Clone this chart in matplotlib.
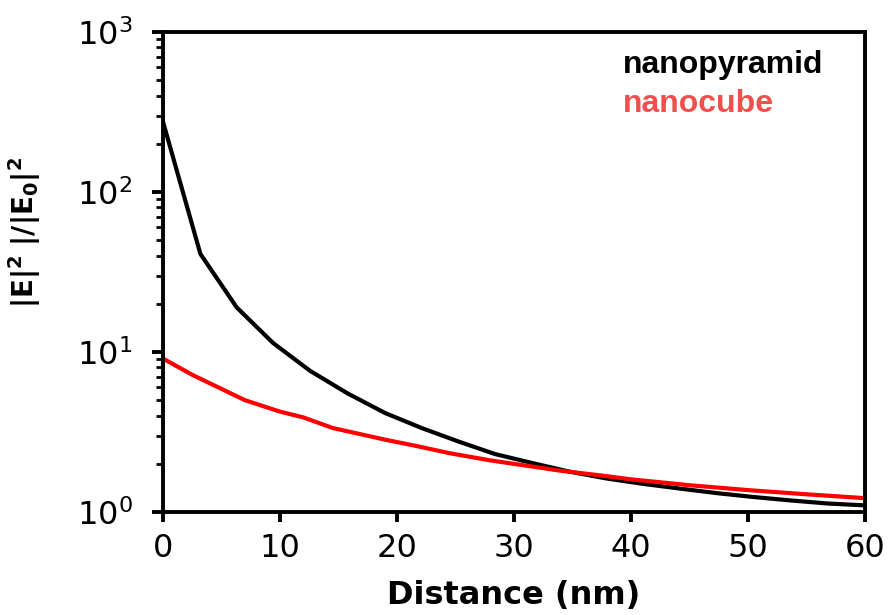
import numpy as np
import matplotlib
matplotlib.use("Agg")
import matplotlib.pyplot as plt

# distance from surface (nm) and field enhancement
pyramid_dist = [0, 3.2, 6.3, 9.4, 12.6, 15.8, 19.0, 22.1, 25.3, 28.4, 31.6,
                34.7, 37.9, 41.0, 44.2, 47.4, 50.5, 53.7, 56.8, 60.0]
pyramid_enh = [275, 41, 19, 11.4, 7.6, 5.5, 4.15, 3.35, 2.75, 2.3, 2.02,
               1.79, 1.62, 1.50, 1.40, 1.31, 1.24, 1.18, 1.13, 1.10]

cube_dist = [0, 2.5, 7.0, 10.0, 12.0, 14.5, 17.0, 19.1, 21.5, 24.5, 28.0,
             31.0, 34.0, 37.5, 40.0, 45.0, 50.0, 55.0, 60.0]
cube_enh = [9.1, 7.2, 5.0, 4.24, 3.9, 3.35, 3.05, 2.82, 2.6, 2.33, 2.1,
            1.95, 1.81, 1.69, 1.60, 1.47, 1.37, 1.29, 1.22]

labels = ["nanopyramid", "nanocube"]

fig = plt.figure(figsize=(8.92, 6.15), dpi=100)
ax = fig.add_axes([0.1827, 0.1675, 0.787, 0.7805])

ax.plot(pyramid_dist, pyramid_enh, color="black", lw=3.0)
ax.plot(cube_dist, cube_enh, color="red", lw=3.0)

ax.set_yscale("log")
ax.set_xlim(0, 60)
ax.set_ylim(1, 1000)
ax.set_xticks([0, 10, 20, 30, 40, 50, 60])

for s in ax.spines.values():
    s.set_linewidth(2.8)

ax.tick_params(axis="x", which="major", labelsize=23, length=7, width=2.8,
               direction="out", pad=8)
ax.tick_params(axis="y", which="major", labelsize=23, length=8, width=2.8,
               direction="out", pad=14)
ax.tick_params(axis="y", which="minor", length=5, width=2.0, direction="out")

ax.set_xlabel("Distance (nm)", fontsize=23, fontweight="bold", labelpad=12)
ax.set_ylabel(r"$\mathbf{|E|^2\ |/|E_0|^2}$", fontsize=20)
ax.yaxis.set_label_coords(-0.171, 0.583)

leg_font = {"family": ["Liberation Sans", "DejaVu Sans"], "weight": "bold", "size": 23}
ax.text(0.655, 0.915, labels[0], transform=ax.transAxes, color="black",
        va="baseline", ha="left", fontdict=leg_font)
ax.text(0.655, 0.833, labels[1], transform=ax.transAxes, color="#f0504d",
        va="baseline", ha="left", fontdict=leg_font)

fig.savefig("out.png", dpi=100)
